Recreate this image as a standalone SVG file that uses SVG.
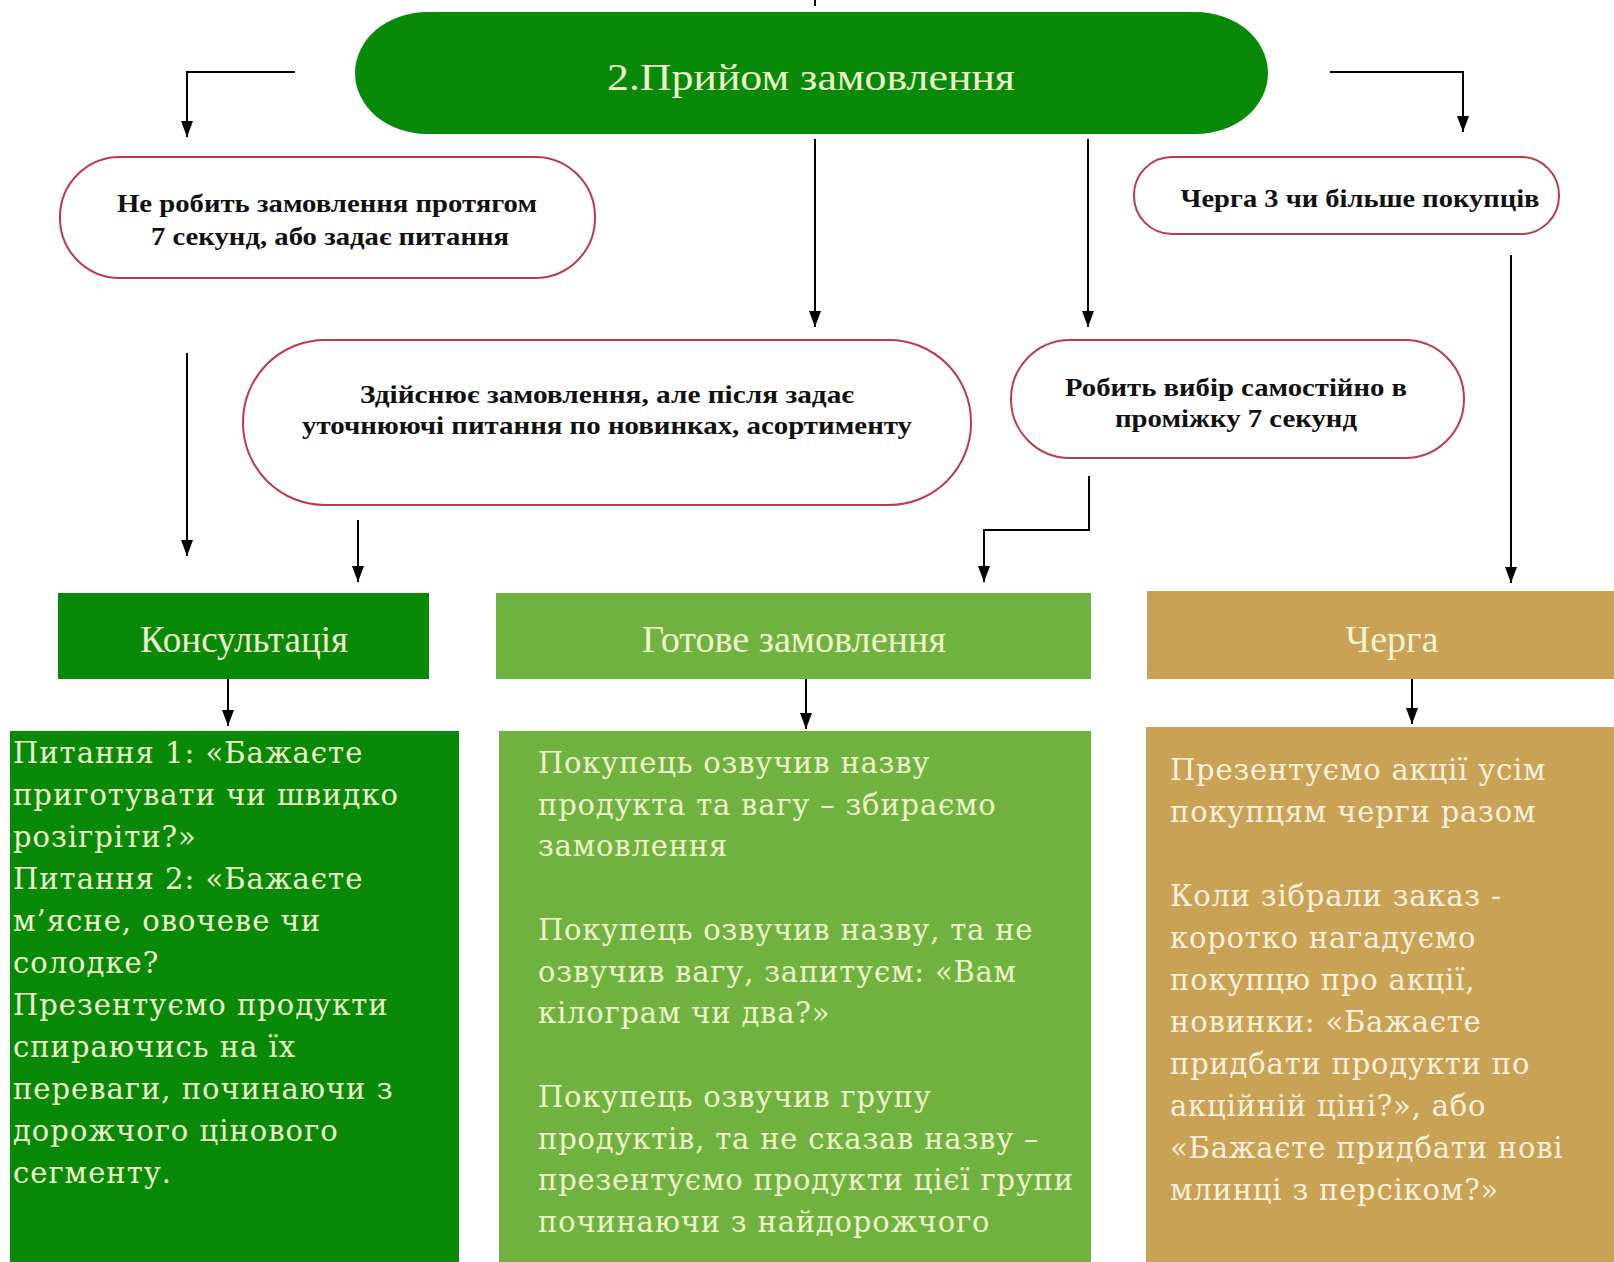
<svg xmlns="http://www.w3.org/2000/svg" width="1614" height="1262" viewBox="0 0 1614 1262">
<defs>
<marker id="ah" viewBox="0 0 16 12" refX="16" refY="6" markerWidth="16" markerHeight="12" markerUnits="userSpaceOnUse" orient="auto">
<path d="M0,0 L16,6 L0,12 Z" fill="#000"/>
</marker>
<style>
.conn{fill:none;stroke:#000;stroke-width:2}
.arr{fill:none;stroke:#000;stroke-width:2;marker-end:url(#ah)}
.oval{fill:#fff;stroke:#c0394b;stroke-width:2}
.bold{font-family:"Liberation Serif",serif;font-weight:bold;font-size:26px;fill:#111;text-anchor:middle}
.hdr{font-family:"Liberation Serif",serif;font-size:37px;fill:#eef5cc;text-anchor:middle}
.body{font-family:"DejaVu Serif",serif;font-size:29px;letter-spacing:1px;fill:#eef5cc}
.bodym{font-family:"DejaVu Serif",serif;font-size:29px;letter-spacing:0.8px;fill:#eef5cc}
.bodyt{font-family:"DejaVu Serif",serif;font-size:29px;letter-spacing:0.8px;fill:#fbf1dc}
</style>
</defs>
<rect width="1614" height="1262" fill="#fff"/>

<g id="connectors">
<line class="conn" x1="815" y1="0" x2="815" y2="6"/>
<path class="arr" d="M295,72 H187 V137"/>
<path class="arr" d="M1330,72 H1463 V132"/>
<path class="arr" d="M815,139 V327"/>
<path class="arr" d="M1088,139 V327"/>
<path class="arr" d="M187,353 V556"/>
<path class="arr" d="M358,520 V582"/>
<path class="arr" d="M1089,476 V530 H984 V582"/>
<path class="arr" d="M1511,255 V583"/>
<path class="arr" d="M228,679 V726"/>
<path class="arr" d="M806,679 V729"/>
<path class="arr" d="M1412,679 V724"/>
</g>

<g id="start">
<rect x="355" y="12" width="913" height="122" rx="72" ry="61" fill="#088a08"/>
<text class="hdr" x="811" y="90" font-size="42" textLength="408" lengthAdjust="spacingAndGlyphs">2.Прийом замовлення</text>
</g>

<g id="no-order">
<rect class="oval" x="60" y="157" width="535" height="121" rx="60" ry="60"/>
<text class="bold" x="327" y="212" textLength="420" lengthAdjust="spacingAndGlyphs">Не робить замовлення протягом</text>
<text class="bold" x="330" y="245" textLength="358" lengthAdjust="spacingAndGlyphs">7 секунд, або задає питання</text>
</g>

<g id="queue-cond">
<rect class="oval" x="1134" y="157" width="425" height="77" rx="38" ry="38"/>
<text class="bold" x="1360" y="207" textLength="359" lengthAdjust="spacingAndGlyphs">Черга 3 чи більше покупців</text>
</g>

<g id="order-questions">
<rect class="oval" x="243" y="340" width="728" height="165" rx="82" ry="82"/>
<text class="bold" x="607" y="403" textLength="494" lengthAdjust="spacingAndGlyphs">Здійснює замовлення, але після задає</text>
<text class="bold" x="607" y="434" textLength="610" lengthAdjust="spacingAndGlyphs">уточнюючі питання по новинках, асортименту</text>
</g>

<g id="self-choice">
<rect class="oval" x="1011" y="340" width="453" height="118" rx="59" ry="59"/>
<text class="bold" x="1236" y="396" textLength="342" lengthAdjust="spacingAndGlyphs">Робить вибір самостійно в</text>
<text class="bold" x="1236" y="427" textLength="242" lengthAdjust="spacingAndGlyphs">проміжку 7 секунд</text>
</g>

<g id="consult">
<rect x="58" y="593" width="371" height="86" fill="#088a08"/>
<text class="hdr" x="244" y="652" textLength="208" lengthAdjust="spacingAndGlyphs">Консультація</text>
</g>

<g id="ready">
<rect x="496" y="593" width="595" height="86" fill="#70b23f"/>
<text class="hdr" x="794" y="652" textLength="304" lengthAdjust="spacingAndGlyphs">Готове замовлення</text>
</g>

<g id="queue">
<rect x="1147" y="591" width="467" height="88" fill="#c9a256"/>
<text class="hdr" x="1392" y="652" fill="#fbf1dc" textLength="93" lengthAdjust="spacingAndGlyphs">Черга</text>
</g>

<g id="consult-text">
<rect x="10" y="731" width="449" height="531" fill="#088a08"/>
<text class="body">
<tspan x="13" y="763">Питання 1: «Бажаєте</tspan>
<tspan x="13" y="805">приготувати чи швидко</tspan>
<tspan x="13" y="847">розігріти?»</tspan>
<tspan x="13" y="889">Питання 2: «Бажаєте</tspan>
<tspan x="13" y="931">м’ясне, овочеве чи</tspan>
<tspan x="13" y="973">солодке?</tspan>
<tspan x="13" y="1015">Презентуємо продукти</tspan>
<tspan x="13" y="1057">спираючись на їх</tspan>
<tspan x="13" y="1099">переваги, починаючи з</tspan>
<tspan x="13" y="1141">дорожчого цінового</tspan>
<tspan x="13" y="1183">сегменту.</tspan>
</text>
</g>

<g id="ready-text">
<rect x="499" y="731" width="592" height="531" fill="#70b23f"/>
<text class="bodym">
<tspan x="538" y="773">Покупець озвучив назву</tspan>
<tspan x="538" y="815">продукта та вагу – збираємо</tspan>
<tspan x="538" y="856">замовлення</tspan>
<tspan x="538" y="940">Покупець озвучив назву, та не</tspan>
<tspan x="538" y="982">озвучив вагу, запитуєм: «Вам</tspan>
<tspan x="538" y="1023">кілограм чи два?»</tspan>
<tspan x="538" y="1107">Покупець озвучив групу</tspan>
<tspan x="538" y="1149">продуктів, та не сказав назву –</tspan>
<tspan x="538" y="1190">презентуємо продукти цієї групи</tspan>
<tspan x="538" y="1232">починаючи з найдорожчого</tspan>
</text>
</g>

<g id="queue-text">
<rect x="1146" y="727" width="468" height="535" fill="#c9a256"/>
<text class="bodyt">
<tspan x="1170" y="780">Презентуємо акції усім</tspan>
<tspan x="1170" y="822">покупцям черги разом</tspan>
<tspan x="1170" y="906">Коли зібрали заказ  -</tspan>
<tspan x="1170" y="948">коротко нагадуємо</tspan>
<tspan x="1170" y="990">покупцю про акції,</tspan>
<tspan x="1170" y="1032">новинки: «Бажаєте</tspan>
<tspan x="1170" y="1074">придбати продукти по</tspan>
<tspan x="1170" y="1116">акційній ціні?», або</tspan>
<tspan x="1170" y="1158">«Бажаєте придбати нові</tspan>
<tspan x="1170" y="1200">млинці з персіком?»</tspan>
</text>
</g>
</svg>
